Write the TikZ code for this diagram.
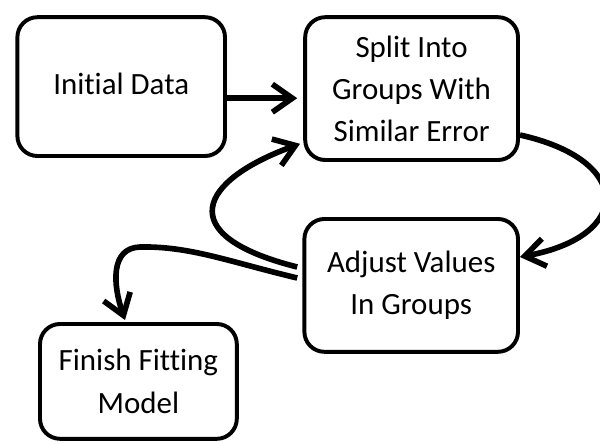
\documentclass[tikz,border=0pt]{standalone}
\usepackage{fontspec}
\setmainfont[Ligatures=NoCommon]{Carlito}
\usetikzlibrary{arrows.meta,positioning,calc}
\tikzset{
  >={Straight Barb[length=5mm,width=7mm]},
  % rutor
  fb/.style={draw=black,line width=2.8pt,rounded corners=0.5cm,align=center,
             font=\fontsize{22}{30}\selectfont,inner sep=2pt},
  % pilar
  fa/.style={->,draw=black,line width=4pt},
}

\begin{document}
\begin{tikzpicture}
  \useasboundingbox (0,0) rectangle (15,11.075);
  \node[fb,minimum width=5.19cm,minimum height=3.47cm] (init) at (3.03,8.91) {\raisebox{0.12cm}{Initial Data}};
  \node[fb,minimum width=5.32cm,minimum height=3.57cm] (split) at (10.29,8.86) {Split Into\\Groups With\\Similar Error};
  \node[fb,minimum width=5.34cm,minimum height=3.32cm] (adjust) at (10.28,3.94) {Adjust Values\\In Groups};
  \node[fb,minimum width=4.92cm,minimum height=2.87cm] (finish) at (3.46,1.54) {Finish Fitting\\Model};
  \coordinate (a1) at ($(init.east)+(0,-0.29)$);
  \draw[fa,shorten >=0.15cm] (a1) -- (a1 -| split.west);
  \draw[fa] ($(split.east)+(0,-1.16)$) .. controls (15.825,7.075) and (15.825,5.175) .. ($(adjust.east)+(0,0.71)$);
  \draw[fa] ($(adjust.west)+(-0.13,0.46)$) .. controls (4.25,5.2) and (5.0,6.575) .. ($(split.west)+(-0.08,-1.38)$);
  \draw[fa] ($(adjust.west)+(-0.13,0.185)$) .. controls (5.75,4.525) and (4.75,4.925) .. (3.5,4.9)
    .. controls (2.75,4.875) and (2.825,3.95) .. ($(finish.north)+(-0.335,0.05)$);
\end{tikzpicture}
\end{document}
